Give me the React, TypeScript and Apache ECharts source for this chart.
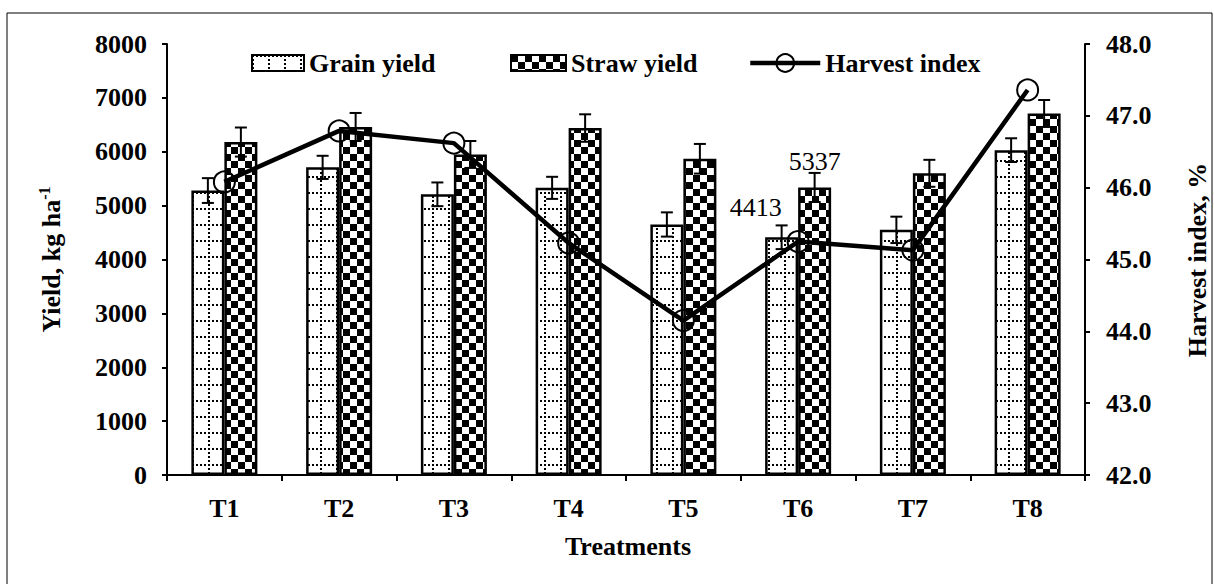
import React, { useEffect, useRef } from 'react';
import * as echarts from 'echarts';

const categories = ['T1', 'T2', 'T3', 'T4', 'T5', 'T6', 'T7', 'T8'];
const grainYield = [5280, 5710, 5210, 5330, 4650, 4413, 4550, 6030];
const grainErr = [230, 215, 220, 205, 225, 220, 245, 220];
const strawYield = [6180, 6460, 5950, 6440, 5870, 5337, 5600, 6710];
const strawErr = [270, 260, 250, 255, 275, 270, 250, 250];
const harvestIndex = [46.08, 46.79, 46.62, 45.23, 44.15, 45.25, 45.13, 47.36];
const yieldAxis = [0, 8000, 1000];
const hiAxis = [42, 48, 1];
const labelledIndex = 5;

const FONT = '"Liberation Serif", "Times New Roman", serif';

function grainPattern() {
  const c = document.createElement('canvas');
  c.width = 16; c.height = 16;
  const g = c.getContext('2d')!;
  g.fillStyle = '#fff'; g.fillRect(0, 0, 16, 16);
  g.fillStyle = '#000';
  for (let i = 0; i < 16; i += 4) {
    g.fillRect(i, 0, 2, 2);
    g.fillRect(0, i, 2, 2);
  }
  return c;
}
function checkerPattern() {
  const c = document.createElement('canvas');
  c.width = 14; c.height = 14;
  const g = c.getContext('2d')!;
  g.fillStyle = '#fff'; g.fillRect(0, 0, 14, 14);
  g.fillStyle = '#000';
  g.fillRect(0, 0, 7, 7);
  g.fillRect(7, 7, 7, 7);
  return c;
}

function errSeries(values: number[], errs: number[], offset: number) {
  return {
    type: 'custom',
    xAxisIndex: 0,
    yAxisIndex: 0,
    z: 5,
    silent: true,
    encode: { x: 0, y: 1 },
    data: values.map((v, i) => [i, v, errs[i]]),
    renderItem: (params: any, api: any) => {
      const i = api.value(0), v = api.value(1), e = api.value(2);
      const top = api.coord([i, v + e]);
      const bot = api.coord([i, v - e]);
      const x = top[0] + offset;
      const cw = 6;
      const style = { stroke: '#000', lineWidth: 2 };
      return {
        type: 'group',
        children: [
          { type: 'line', shape: { x1: x, y1: top[1], x2: x, y2: bot[1] }, style },
          { type: 'line', shape: { x1: x - cw, y1: top[1], x2: x + cw, y2: top[1] }, style },
          { type: 'line', shape: { x1: x - cw, y1: bot[1], x2: x + cw, y2: bot[1] }, style },
        ],
      };
    },
  };
}

export default function App() {
  const ref = useRef<HTMLDivElement>(null);
  useEffect(() => {
    const chart = echarts.init(ref.current!, null, { renderer: 'svg' });
    const grainFill = { image: grainPattern(), repeat: 'repeat' };
    const strawFill = { image: checkerPattern(), repeat: 'repeat' };
    const axisText = { fontFamily: FONT, fontSize: 26, fontWeight: 'bold', color: '#000' };
    const dataLabel = { show: true, position: 'top', distance: 5, fontFamily: FONT, fontSize: 26, fontWeight: 'normal', color: '#000' };
    const legendBase = {
      orient: 'horizontal', top: 50, padding: 0, selectedMode: false,
      textStyle: { fontFamily: FONT, fontSize: 26, fontWeight: 'bold', color: '#000' },
    };
    chart.setOption({
      animation: false,
      backgroundColor: '#fff',
      grid: { left: 167, right: 129, top: 44, bottom: 109, containLabel: false, outerBoundsMode: 'none' },
      legend: [
        { ...legendBase, left: 251, data: ['Grain yield'], icon: 'rect', itemWidth: 52, itemHeight: 16,
          itemStyle: { borderColor: '#000', borderWidth: 2 } },
        { ...legendBase, left: 510, data: ['Straw yield'], icon: 'rect', itemWidth: 55, itemHeight: 16,
          itemStyle: { borderColor: '#000', borderWidth: 2 } },
        { ...legendBase, left: 748, data: ['Harvest index'], itemWidth: 70, itemHeight: 22,
          itemStyle: { color: 'rgba(0,0,0,0)', borderColor: '#000', borderWidth: 2 },
          lineStyle: { color: '#000', width: 4.5 } },
      ],
      xAxis: {
        type: 'category',
        data: categories,
        boundaryGap: true,
        axisLine: { show: true, lineStyle: { color: '#000', width: 2 } },
        axisTick: { show: true, length: 6, lineStyle: { color: '#000', width: 2 } },
        axisLabel: { ...axisText, margin: 20 },
        splitLine: { show: false },
      },
      yAxis: [
        {
          type: 'value', position: 'left',
          min: yieldAxis[0], max: yieldAxis[1], interval: yieldAxis[2],
          axisLine: { show: true, lineStyle: { color: '#000', width: 2 } },
          axisTick: { show: true, length: 5, lineStyle: { color: '#000', width: 2 } },
          axisLabel: { ...axisText, margin: 20, formatter: (v: number) => String(v) },
          splitLine: { show: false },
        },
        {
          type: 'value', position: 'right',
          min: hiAxis[0], max: hiAxis[1], interval: hiAxis[2],
          axisLine: { show: true, lineStyle: { color: '#000', width: 2 } },
          axisTick: { show: true, length: 5, lineStyle: { color: '#000', width: 2 } },
          axisLabel: { ...axisText, margin: 21, formatter: (v: number) => v.toFixed(1) },
          splitLine: { show: false },
        },
      ],
      series: [
        {
          name: 'Grain yield', type: 'bar', barWidth: 33, barGap: '0%', z: 2,
          itemStyle: { color: grainFill, borderColor: '#000', borderWidth: 2.5 },
          data: grainYield.map((v, i) => i === labelledIndex
            ? { value: v, label: { ...dataLabel, offset: [-26, -12] } } : v),
        },
        {
          name: 'Straw yield', type: 'bar', barWidth: 33, barGap: '0%', z: 2,
          itemStyle: { color: strawFill, borderColor: '#000', borderWidth: 2.5 },
          data: strawYield.map((v, i) => i === labelledIndex
            ? { value: v, label: { ...dataLabel, offset: [0, -8] } } : v),
        },
        errSeries(grainYield, grainErr, -16.5),
        errSeries(strawYield, strawErr, 16.5),
        {
          name: 'Harvest index', type: 'line', yAxisIndex: 1, z: 6,
          symbol: 'circle', symbolSize: 21,
          lineStyle: { color: '#000', width: 4.5 },
          itemStyle: { color: 'rgba(0,0,0,0)', borderColor: '#000', borderWidth: 2 },
          data: harvestIndex,
        },
      ],
      graphic: [
        { type: 'rect', shape: { x: 7, y: 13, width: 1205, height: 600 },
          style: { fill: 'none', stroke: '#000', lineWidth: 1 }, silent: true },
        { type: 'text', x: 51, y: 259.5, rotation: Math.PI / 2,
          style: {
            text: '{a|Yield, kg ha}{b|-1}', align: 'center', verticalAlign: 'middle',
            rich: {
              a: { fontFamily: FONT, fontSize: 26, fontWeight: 'bold', fill: '#000', lineHeight: 30 },
              b: { fontFamily: FONT, fontSize: 16, fontWeight: 'bold', fill: '#000', lineHeight: 18, verticalAlign: 'top' },
            },
          } },
        { type: 'text', x: 1197, y: 260, rotation: Math.PI / 2,
          style: { text: 'Harvest index, %', align: 'center', verticalAlign: 'middle',
            font: `bold 26px ${FONT}`, fill: '#000' } },
        { type: 'text', x: 628, y: 546,
          style: { text: 'Treatments', align: 'center', verticalAlign: 'middle',
            font: `bold 26px ${FONT}`, fill: '#000' } },
      ],
    });
    return () => chart.dispose();
  }, []);
  return (
    <div
      ref={ref}
      style={{ position: 'fixed', left: 0, top: 0, width: 1214, height: 584, background: '#fff' }}
    />
  );
}
